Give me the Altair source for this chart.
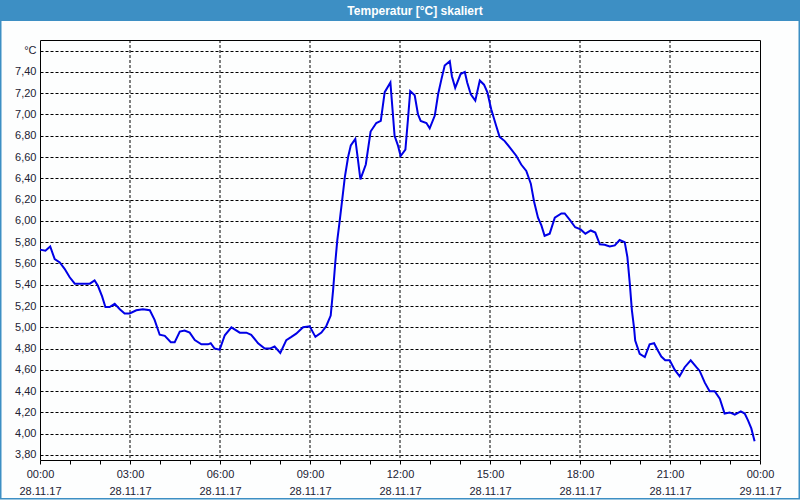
import altair as alt
import pandas as pd

# hours since 28.11.17 00:00
hours = [0.0, 0.18, 0.34, 0.49, 0.66, 0.82, 0.99, 1.16, 1.38, 1.66, 1.82, 1.93, 2.07, 2.18, 2.32, 2.49,
         2.66, 2.82, 2.99, 3.21, 3.43, 3.66, 3.82, 3.99, 4.16, 4.36, 4.49, 4.66, 4.82, 4.99, 5.16, 5.38,
         5.6, 5.69, 5.82, 5.99, 6.16, 6.38, 6.66, 6.88, 7.04, 7.27, 7.49, 7.66, 7.82, 8.01, 8.21, 8.38,
         8.54, 8.77, 8.99, 9.18, 9.38, 9.54, 9.69, 9.77, 9.84, 9.91, 9.99, 10.07, 10.16, 10.27, 10.36,
         10.51, 10.6, 10.68, 10.86, 11.02, 11.21, 11.36, 11.49, 11.68, 11.82, 11.93, 12.02, 12.18, 12.27,
         12.34, 12.49, 12.6, 12.69, 12.88, 12.99, 13.16, 13.27, 13.38, 13.49, 13.66, 13.73, 13.84, 14.02,
         14.16, 14.24, 14.36, 14.51, 14.66, 14.8, 14.91, 15.04, 15.21, 15.32, 15.49, 15.69, 15.88, 16.04,
         16.21, 16.36, 16.47, 16.6, 16.71, 16.82, 16.99, 17.16, 17.38, 17.49, 17.66, 17.84, 18.02, 18.18,
         18.36, 18.51, 18.66, 18.82, 18.99, 19.16, 19.32, 19.49, 19.58, 19.66, 19.73, 19.8, 19.84, 19.99,
         20.16, 20.32, 20.47, 20.6, 20.71, 20.84, 20.99, 21.16, 21.32, 21.49, 21.69, 21.88, 21.99, 22.16,
         22.32, 22.49, 22.66, 22.82, 22.99, 23.16, 23.36, 23.49, 23.6, 23.71, 23.82]

temps = [5.73, 5.72, 5.76, 5.64, 5.61, 5.55, 5.47, 5.41, 5.41, 5.41, 5.44, 5.39, 5.29, 5.19, 5.19, 5.22,
         5.17, 5.13, 5.13, 5.16, 5.17, 5.16, 5.07, 4.93, 4.92, 4.86, 4.86, 4.96, 4.97, 4.95, 4.88, 4.84,
         4.84, 4.85, 4.80, 4.79, 4.925, 5.00, 4.95, 4.95, 4.93, 4.85, 4.80, 4.80, 4.82, 4.76, 4.88, 4.91,
         4.94, 5.00, 5.01, 4.91, 4.95, 5.01, 5.11, 5.35, 5.60, 5.82, 6.00, 6.19, 6.41, 6.60, 6.71,
         6.77, 6.57, 6.39, 6.53, 6.84, 6.92, 6.94, 7.21, 7.30, 6.80, 6.71, 6.61, 6.67, 6.97,
         7.22, 7.18, 7.00, 6.94, 6.92, 6.87, 6.99, 7.19, 7.33, 7.46, 7.50, 7.36, 7.25, 7.38,
         7.40, 7.30, 7.19, 7.13, 7.32, 7.28, 7.21, 7.05, 6.89, 6.79, 6.75, 6.68, 6.61, 6.53,
         6.47, 6.35, 6.18, 6.03, 5.96, 5.86, 5.88, 6.03, 6.07, 6.07, 6.01, 5.94, 5.92, 5.88,
         5.91, 5.89, 5.78, 5.775, 5.76, 5.77, 5.82, 5.80, 5.66, 5.41, 5.16, 5.00, 4.875, 4.75,
         4.72, 4.84, 4.85, 4.78, 4.725, 4.69, 4.69, 4.60, 4.54, 4.625, 4.69, 4.625, 4.59, 4.48,
         4.40, 4.40, 4.33, 4.19, 4.20, 4.18, 4.21, 4.19, 4.125, 4.05, 3.93]

x_ticks = list(range(25))
grid_hours = [3, 6, 9, 12, 15, 18, 21]
date_labels = ["28.11.17", "29.11.17"]
y_ticks = [round(3.8 + 0.2 * i, 2) for i in range(20)]
y_unit = "°C"
title_text = "Temperatur [°C] skaliert"

df = pd.DataFrame({"h": hours, "t": temps})
gdf = pd.DataFrame({"h": grid_hours})
one = pd.DataFrame({"a": [0]})

FONT = "Liberation Sans"
LABEL_COLOR = "#222233"
BLUE_BAR = "#3d8fc4"

x_label_expr = (
    "datum.value % 3 == 0 ? [format(datum.value % 24, '02d') + ':00', "
    f"datum.value < 24 ? '{date_labels[0]}' : '{date_labels[1]}'] : ''"
)
y_label_expr = (
    f"datum.value > 7.55 ? '{y_unit}' : replace(format(datum.value, '.2f'), '.', ',')"
)

xscale = alt.Scale(domain=[0, 24], nice=False, zero=False)
x_axis = alt.Axis(values=x_ticks, labelExpr=x_label_expr, title=None,
                  grid=False,
                  domain=False, ticks=True, tickSize=4, tickColor="black",
                  labelFont=FONT, labelFontSize=11, labelColor=LABEL_COLOR,
                  labelPadding=4, labelLineHeight=17, labelAngle=0,
                  labelFlush=False, labelOverlap=False)

vgrid = alt.Chart(gdf).mark_rule(color="black", strokeWidth=1, strokeDash=[3, 2]).encode(
    x=alt.X("h:Q", scale=xscale, axis=x_axis)
)

line = alt.Chart(df).mark_line(color="#0000e6", strokeWidth=2).encode(
    x=alt.X("h:Q", scale=xscale, axis=x_axis),
    y=alt.Y("t:Q", scale=alt.Scale(domain=[3.753, 7.70], nice=False, zero=False),
            axis=alt.Axis(values=y_ticks, labelExpr=y_label_expr, title=None,
                          grid=True, gridColor="black", gridDash=[3, 2], gridWidth=1,
                          domain=False, ticks=False, labelPadding=4,
                          labelFont=FONT, labelFontSize=11, labelColor=LABEL_COLOR,
                          labelOverlap=False, labelFlush=False)),
)

bar = alt.Chart(one).mark_rect(color=BLUE_BAR).encode(
    x=alt.value(-40), x2=alt.value(760), y=alt.value(-40), y2=alt.value(-19)
)
border = alt.Chart(one).mark_rect(fillOpacity=0, stroke=BLUE_BAR, strokeWidth=1.5).encode(
    x=alt.value(-39.25), x2=alt.value(759.25), y=alt.value(-30), y2=alt.value(458.75)
)
title = alt.Chart(one).mark_text(
    text=title_text, font=FONT, fontSize=12, fontWeight="bold", color="white",
    align="center", baseline="middle"
).encode(x=alt.value(375), y=alt.value(-29.5))

chart = alt.layer(border, bar, title, vgrid, line).properties(
    width=720, height=420,
    padding={"left": 40, "top": 40, "right": 40, "bottom": 40},
    autosize=alt.AutoSizeParams(type="none"),
    background="#fdfefe",
).configure_view(stroke="black", strokeWidth=1)

chart.save("out.html", embed_options={"renderer": "svg", "actions": False})
